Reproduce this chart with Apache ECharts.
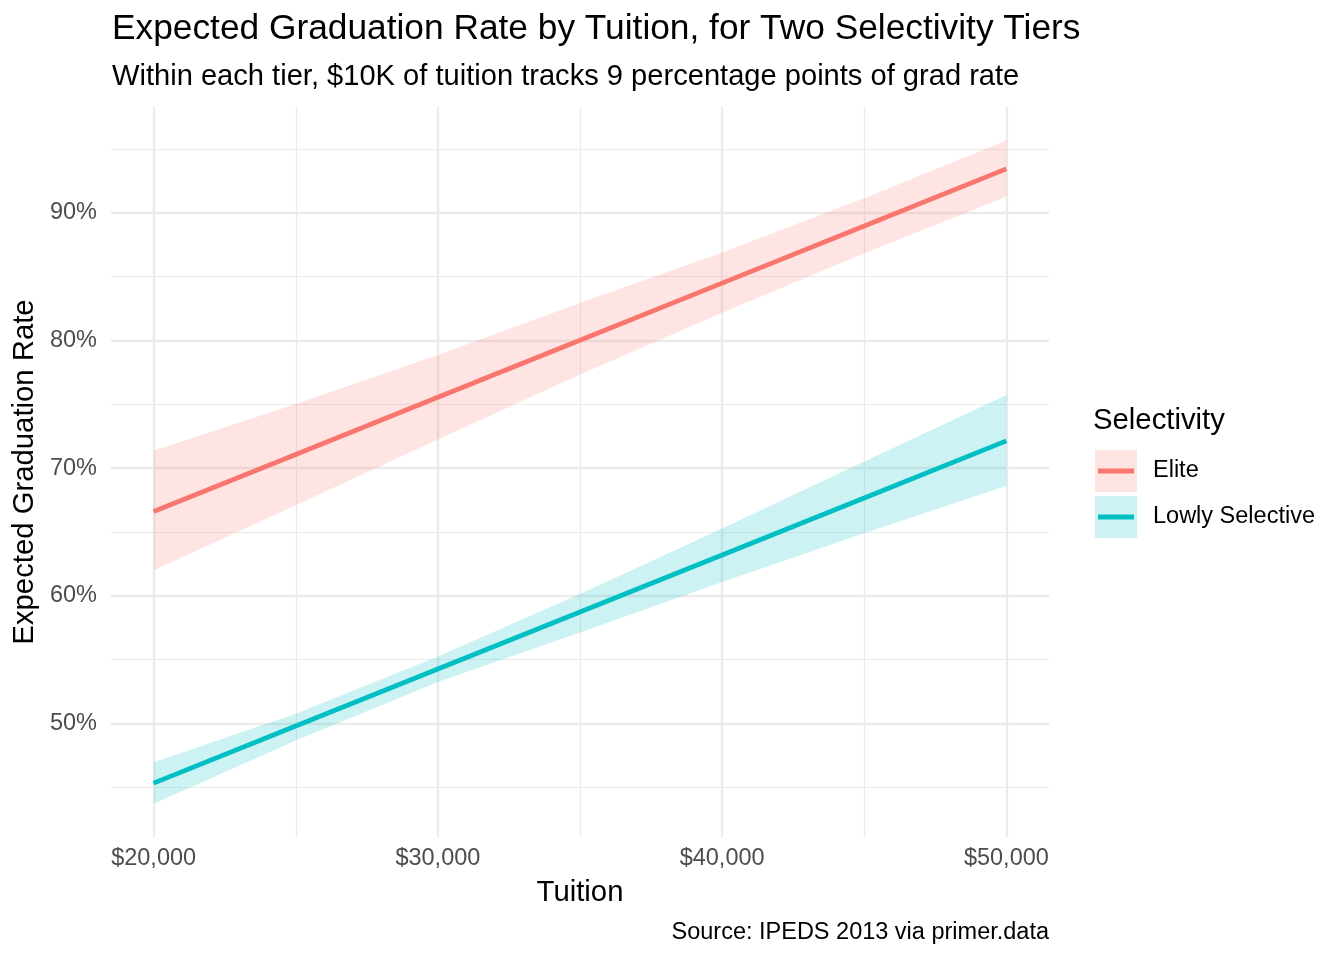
<!DOCTYPE html>
<html><head><meta charset="utf-8">
<script src="https://cdn.jsdelivr.net/npm/echarts@6/dist/echarts.min.js"></script>
<style>html,body{margin:0;padding:0;background:#fff}#c{width:1344px;height:960px}</style>
</head><body><div id="c"></div>
<script>
// ---- data ----
const tuition = [20000, 25000, 30000, 35000, 40000, 45000, 50000];
const eliteFit  = [66.6, 71.07, 75.55, 80.02, 84.5, 88.97, 93.45];
const eliteLow  = [62.0, 67.1, 72.25, 77.33, 82.18, 86.84, 91.28];
const eliteHigh = [71.36, 75.02, 78.86, 82.94, 86.89, 91.15, 95.67];
const lowlyFit  = [45.32, 49.79, 54.26, 58.73, 63.2, 67.67, 72.14];
const lowlyLow  = [43.7, 48.67, 53.24, 57.12, 61.08, 64.9, 68.6];
const lowlyHigh = [46.96, 50.76, 55.25, 60.14, 65.27, 70.53, 75.73];
const seriesNames = ['Elite', 'Lowly Selective'];
const xMajorTicks = [20000, 30000, 40000, 50000];
const xMinorTicks = [25000, 35000, 45000];
const yMajorTicks = [50, 60, 70, 80, 90];
const yMinorTicks = [45, 55, 65, 75, 85, 95];

const FONT = '"Liberation Sans", Arial, Helvetica, sans-serif';
const RED = '#F8766D', CYAN = '#00BFC4';
const RED_A = 'rgba(248,118,109,0.2)', CYAN_A = 'rgba(0,191,196,0.2)';
const GRID = '#EBEBEB';
const X_MIN = 18500, X_MAX = 51500, Y_MIN = 41.1, Y_MAX = 98.3;

function pairs(ys) { return tuition.map((x, i) => [x, ys[i]]); }
function bandRows(lo, hi) { return tuition.map((x, i) => [x, lo[i], hi[i]]); }
function fmtDollar(v) { return '$' + Math.round(v).toLocaleString('en-US'); }

function bandRenderer(rows, fill) {
  return function (params, api) {
    if (params.dataIndex !== 0) return null;
    const upper = rows.map(r => api.coord([r[0], r[2]]));
    const lower = rows.map(r => api.coord([r[0], r[1]])).reverse();
    return {type: 'polygon', shape: {points: upper.concat(lower)},
            style: {fill: fill, stroke: null}, silent: true};
  };
}

const chart = echarts.init(document.getElementById('c'), null, {renderer: 'canvas'});

const eliteRows = bandRows(eliteLow, eliteHigh);
const lowlyRows = bandRows(lowlyLow, lowlyHigh);

const option = {
  backgroundColor: '#ffffff',
  animation: false,
  title: [
    {text: 'Expected Graduation Rate by Tuition, for Two Selectivity Tiers', left: 112, top: 12, padding: 0,
     textStyle: {fontFamily: FONT, fontSize: 35.3, fontWeight: 'normal', color: '#000'}},
    {text: 'Within each tier, $10K of tuition tracks 9 percentage points of grad rate', left: 112, top: 62, padding: 0,
     textStyle: {fontFamily: FONT, fontSize: 29.1, fontWeight: 'normal', color: '#000'}},
    {text: 'Selectivity', left: 1093, top: 406, padding: 0,
     textStyle: {fontFamily: FONT, fontSize: 29.3, fontWeight: 'normal', color: '#000'}},
    {text: 'Source: IPEDS 2013 via primer.data', right: 295, top: 921, padding: 0,
     textStyle: {fontFamily: FONT, fontSize: 23.5, fontWeight: 'normal', color: '#000'}}
  ],
  grid: {left: 111, right: 295, top: 107, bottom: 123, containLabel: false, outerBoundsMode: 'none'},
  xAxis: [
    {type: 'value', min: X_MIN, max: X_MAX,
     axisLine: {show: false},
     name: 'Tuition', nameLocation: 'middle', nameGap: 41,
     nameTextStyle: {fontFamily: FONT, fontSize: 29.3, color: '#000'},
     axisTick: {show: false, customValues: xMajorTicks},
     axisLabel: {customValues: xMajorTicks, formatter: fmtDollar, margin: 10,
                 fontFamily: FONT, fontSize: 23.5, color: '#4D4D4D'},
     splitLine: {show: true, lineStyle: {color: GRID, width: 2.3}}},
    {type: 'value', min: X_MIN, max: X_MAX, position: 'bottom',
     axisLine: {show: false},
     axisTick: {show: false, customValues: xMinorTicks},
     axisLabel: {show: false, customValues: xMinorTicks},
     splitLine: {show: true, lineStyle: {color: GRID, width: 1.2}}}
  ],
  yAxis: [
    {type: 'value', min: Y_MIN, max: Y_MAX,
     axisLine: {show: false},
     name: 'Expected Graduation Rate', nameLocation: 'middle', nameGap: 70, nameRotate: 90,
     nameTextStyle: {fontFamily: FONT, fontSize: 29.3, color: '#000'},
     axisTick: {show: false, customValues: yMajorTicks},
     axisLabel: {customValues: yMajorTicks, formatter: '{value}%', margin: 14,
                 fontFamily: FONT, fontSize: 23.5, color: '#4D4D4D', padding: [3, 0, 0, 0]},
     splitLine: {show: true, lineStyle: {color: GRID, width: 2.3}}},
    {type: 'value', min: Y_MIN, max: Y_MAX, position: 'left',
     axisLine: {show: false},
     axisTick: {show: false, customValues: yMinorTicks},
     axisLabel: {show: false, customValues: yMinorTicks},
     splitLine: {show: true, lineStyle: {color: GRID, width: 1.2}}}
  ],
  legend: [
    {orient: 'vertical', left: 1095, top: 450, itemWidth: 42, itemHeight: 42, itemGap: 4,
     selectedMode: false, padding: 0,
     data: [
       {name: seriesNames[0], icon: 'rect', itemStyle: {color: RED_A, borderWidth: 0}},
       {name: seriesNames[1], icon: 'rect', itemStyle: {color: CYAN_A, borderWidth: 0}}
     ],
     textStyle: {fontFamily: FONT, fontSize: 23.5, color: '#000', padding: [2, 0, 0, 11]}},
    {orient: 'vertical', left: 1098, top: 468.6, itemWidth: 36, itemHeight: 4.8, itemGap: 41.2,
     selectedMode: false, padding: 0, formatter: function () { return ''; },
     data: [
       {name: seriesNames[0], icon: 'rect', itemStyle: {color: RED, borderWidth: 0}},
       {name: seriesNames[1], icon: 'rect', itemStyle: {color: CYAN, borderWidth: 0}}
     ],
     textStyle: {fontSize: 2, color: 'rgba(0,0,0,0)'}}
  ],
  series: [
    {name: 'elite_band', type: 'custom', data: eliteRows, encode: {x: 0, y: [1, 2]},
     renderItem: bandRenderer(eliteRows, RED_A), silent: true, z: 1},
    {name: 'lowly_band', type: 'custom', data: lowlyRows, encode: {x: 0, y: [1, 2]},
     renderItem: bandRenderer(lowlyRows, CYAN_A), silent: true, z: 1},
    {name: seriesNames[0], type: 'line', data: pairs(eliteFit), symbol: 'none',
     lineStyle: {color: RED, width: 4.8}, itemStyle: {color: RED}, z: 3},
    {name: seriesNames[1], type: 'line', data: pairs(lowlyFit), symbol: 'none',
     lineStyle: {color: CYAN, width: 4.8}, itemStyle: {color: CYAN}, z: 3}
  ]
};
chart.setOption(option);
</script>
</body></html>
